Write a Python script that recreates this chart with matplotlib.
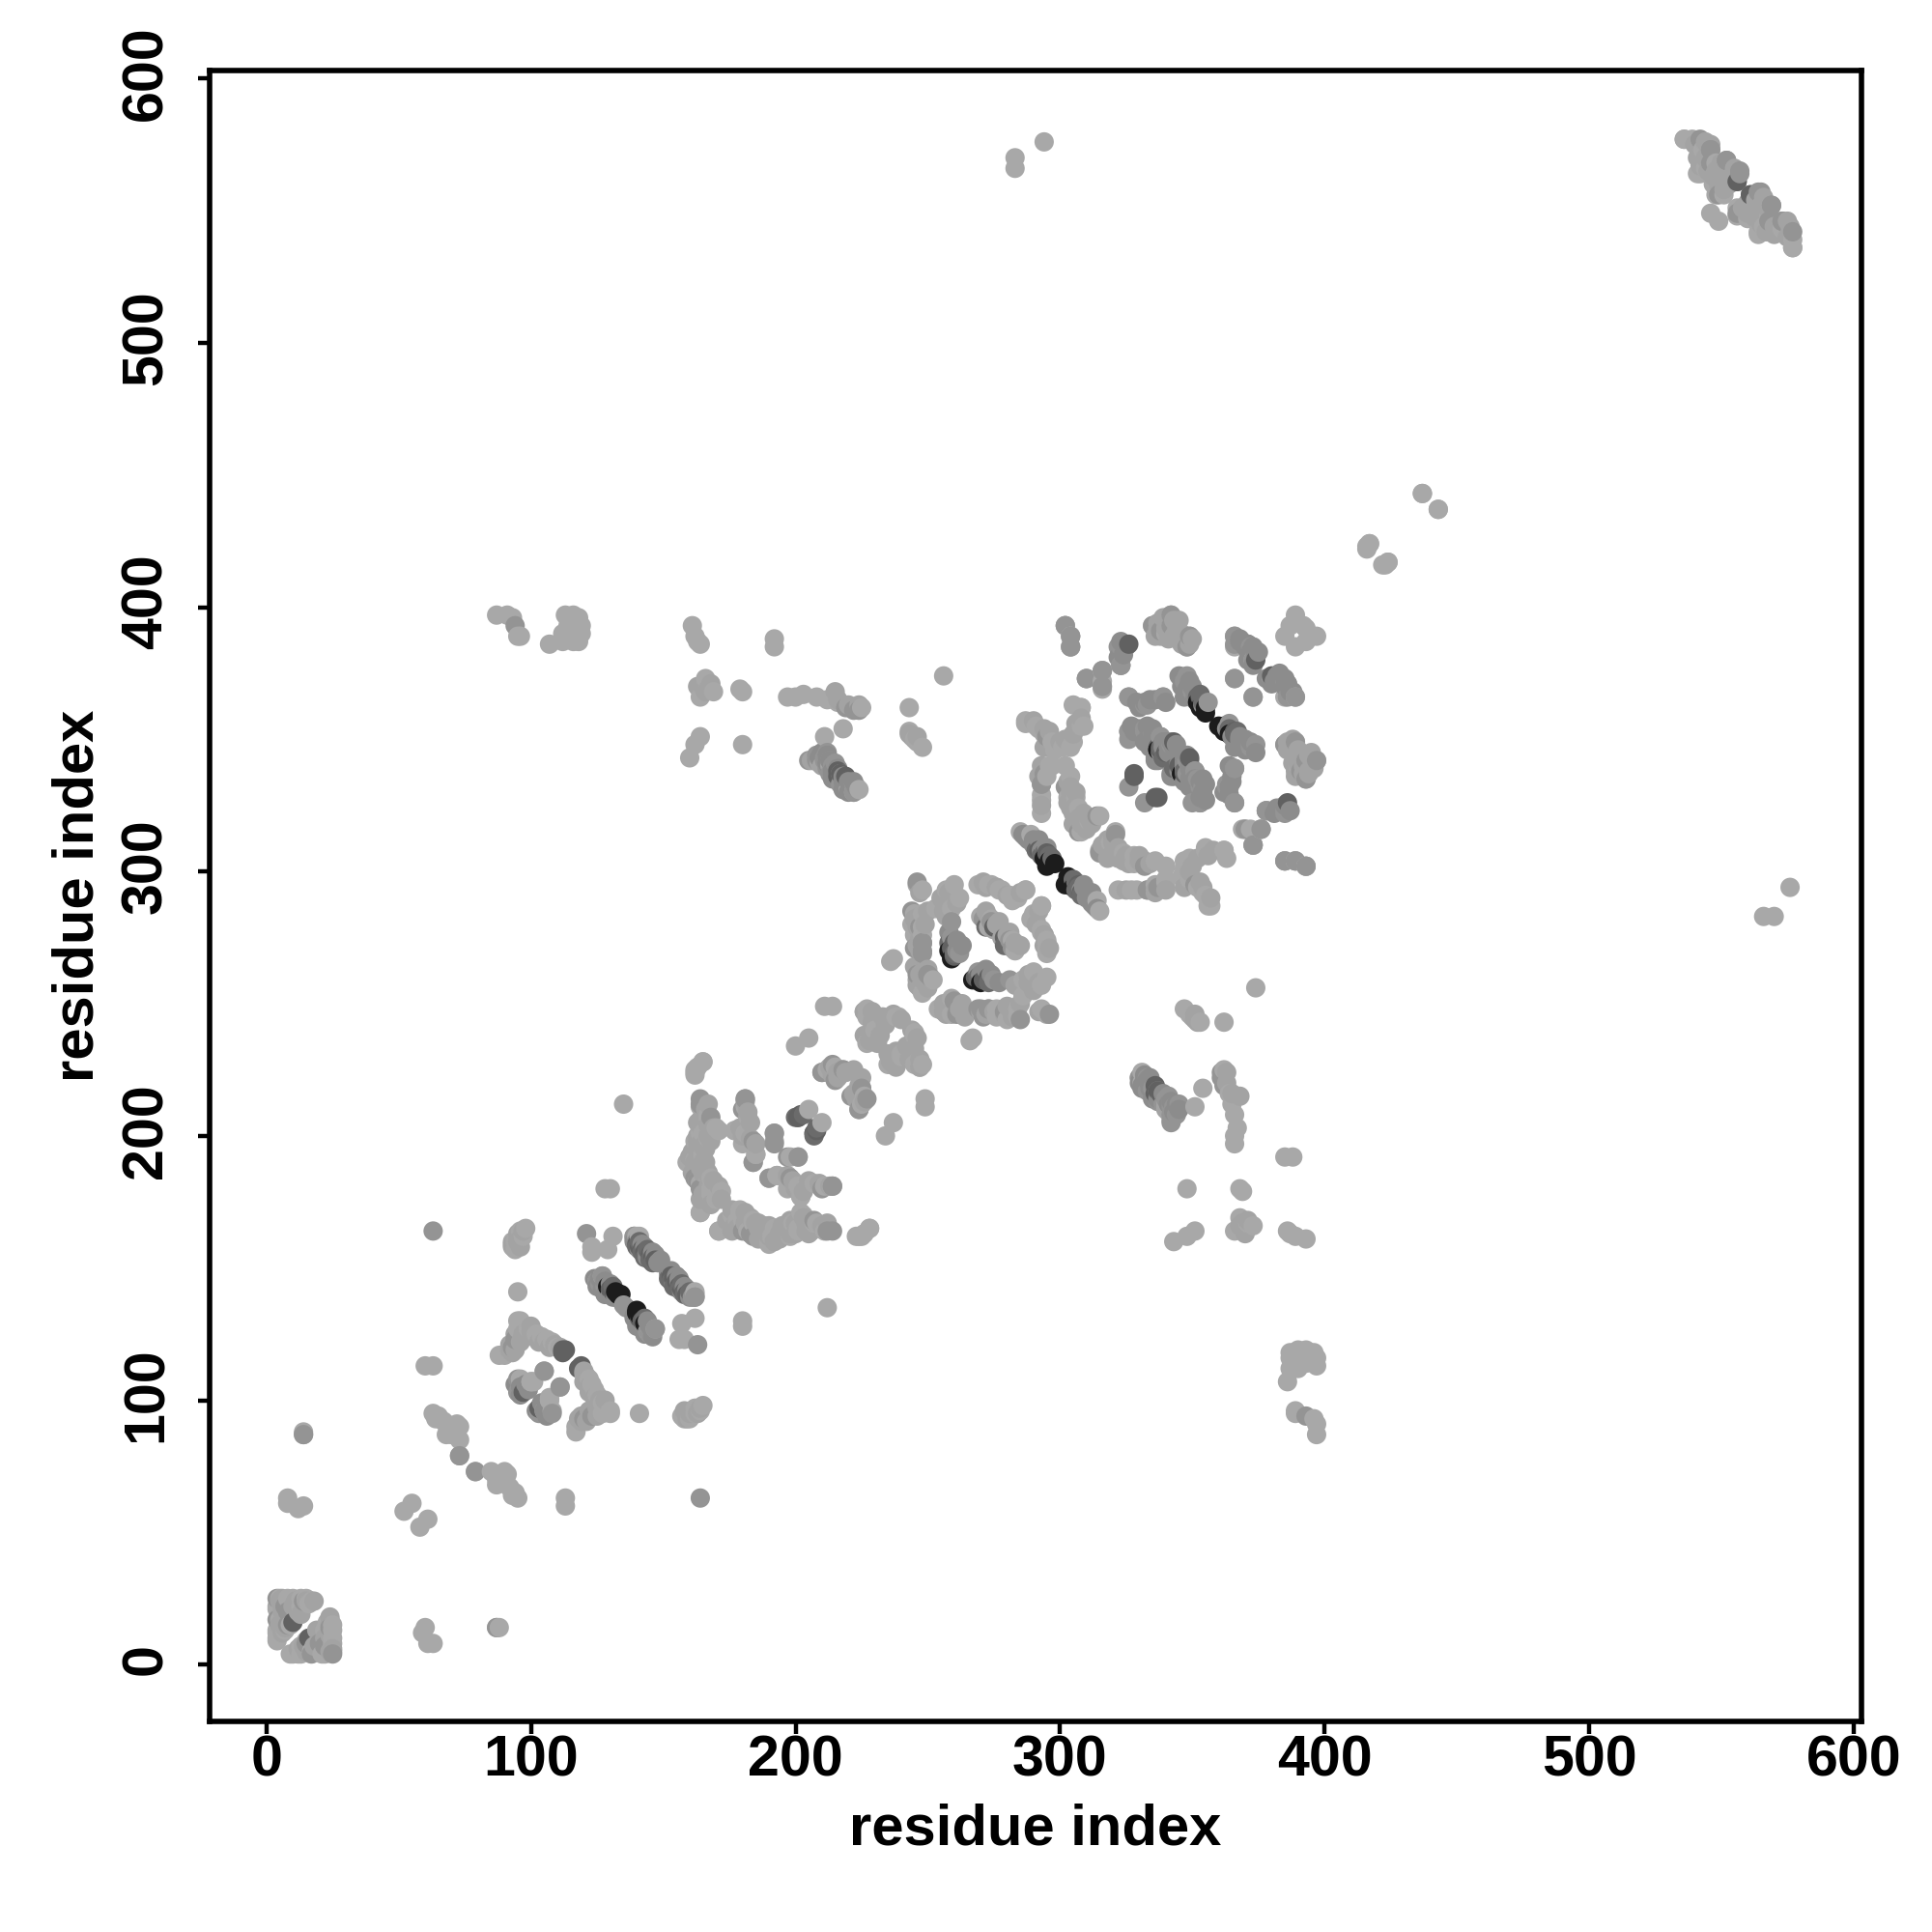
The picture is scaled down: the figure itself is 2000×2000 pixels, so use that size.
import numpy as np
import matplotlib
matplotlib.use("Agg")
import matplotlib.pyplot as plt
from matplotlib.transforms import ScaledTranslation

# contacts (i, j), i < j; the map shows both (i, j) and (j, i)
light = [(4,10),(4,13),(4,21),(8,25),(13,25),(17,24),(16,23),(13,22),(9,15),(9,4),(12,4),(13,7),(5,17),(4,22),(5,25),(10,25),(15,25),
    (14,87),(14,88),(8,61),(8,63),(12,59),(14,60),(52,58),(55,61),(60,113),(63,113),
    (64,93),(65,94),(67,92),(68,91),(70,90),(72,87),(70,87),(73,90),(73,85),(73,79),(63,95),(68,87),(72,91),
    (93,158),(94,160),(95,162),(96,164),(98,165),(94,157),(95,141),(93,160),(97,162),
    (88,117),(90,117),(91,118),(95,127),(95,130),(96,130),(97,128),(99,127),(102,125),(104,124),(106,123),(108,122),(110,120),
    (101,107),(105,111),(100,107),(103,97),(105,96),(108,96),(107,100),
    (123,156),(123,158),(129,157),(131,162),(130,180),(128,180),(141,162),(135,212),(145,125),(147,127),(162,140),
    (162,224),(165,228),(162,225),(167,208),(171,202),(162,198),(165,201),(165,192),(160,190),(162,191),(167,184),(168,180),(172,179),(170,176),(164,171),(171,164),
    (170,176),(171,179),(168,178),(168,184),(163,183),(164,182),(159,190),(162,191),(165,193),(167,199),(170,203),(164,201),(167,207),(164,211),(162,223),(165,228),(163,226),
    (181,211),(182,207),(177,202),(181,201),(180,197),(185,193),(192,201),(192,198),(190,184),(193,185),(198,184),(201,181),(202,177),(205,210),
    (211,249),(214,249),(200,234),(205,237),(227,248),(228,246),(231,240),(227,235),(239,245),(238,245),(230,240),(227,245),(226,247),(212,225),(215,226),(218,225),
    (236,266),(237,267),(246,295),(248,293),(257,293),(260,295),(262,290),(259,286),(253,286),(248,284),(248,279),(245,284),(244,280),(245,276),(248,276),
    (271,295),(274,295),(277,293),(282,289),(287,293),(284,290),(293,287),(291,281),(293,278),(295,273),(295,269),(282,274),(279,273),(283,270),(246,259),(252,259),(248,254),
    (243,362),(243,353),(245,350),(246,349),(248,347),(256,374),
    (302,393),(304,389),(304,385),(310,373),(316,376),(316,372),(316,369),(305,363),(308,362),(309,355),(305,349),(301,347),
    (287,356),(291,355),(294,352),(297,349),(298,346),(293,322),(293,327),(293,333),(296,340),
    (285,315),(289,314),(315,321),(308,315),(311,319),(307,324),(306,328),(303,328),(304,336),(302,340),(304,347),(308,355),(308,362),(298,347),(295,351),(292,354),(287,357),(293,329),(295,336),(297,340),
    (310,373),(316,370),(316,376),(304,385),(304,389),(302,393),(323,378),(348,385),(349,389),(342,393),(342,397),(335,393),(340,390),(338,391),(366,389),(366,385),(366,373),(373,380),(385,389),(387,393),(389,397),(392,393),
    (87,397),(91,397),(93,396),(95,389),(96,389),(107,386),(112,387),(113,397),(116,397),(118,396),(119,393),(119,390),(118,387),(112,390),(114,393),(114,388),(116,387),
    (160,343),(162,348),(164,351),(161,393),(162,389),(163,387),(164,386),(164,366),(166,373),(167,371),(169,368),(179,369),(180,368),(180,348),(192,388),(192,385),
    (197,366),(200,366),(203,367),(208,366),(212,365),(216,364),(211,351),(218,354),(225,362),(224,331),(222,330),(220,331),
    (416,423),(417,424),(422,416),(424,417),(437,443),(443,437),(283,566),(283,570),(294,576),(536,577),(539,577),(541,564),(548,568),(544,566),(543,573),(548,556),(551,556),(547,560),(549,546),(536,577),(564,542)]

mid = [(4,17),(4,25),(8,20),(8,15),(14,24),(7,22),(87,14),(79,73),(63,164),(93,120),(94,123),(95,108),(95,103),(111,105),
    (121,163),(139,162),(139,161),(125,145),(126,144),(127,147),(128,143),(136,135),(162,139),
    (164,214),(164,212),(168,207),(162,184),(164,180),(183,163),(181,214),(184,198),(184,190),(192,197),(201,192),(210,180),(214,181),
    (221,215),(225,218),(227,214),(224,210),(248,273),(248,270),(245,271),(259,281),(274,281),(271,282),(262,269),(259,275),(251,260),(250,261),(261,246),(269,248),(273,248),(279,247),(285,244),(296,246),
    (294,337),(293,333),(302,332),(314,321),(307,315),(295,351),
    (322,385),(323,378),(326,353),(326,366),(333,363),(339,366),(332,353),(335,352),(338,351),(337,348),(326,332),(347,372),(350,368),(356,364),(372,348),(374,348),
    (373,366),(380,373),(385,372),(389,366),(386,366),(385,348),(389,349),(393,342),(397,342),(391,338),(393,335),(378,323),(385,323),(370,316),(376,316),(373,310),(385,304),(389,304),(393,302),
    (353,326),(350,326),(354,332),(366,326),(363,332),(366,339),(348,342),(351,338),(94,393),
    (205,342),(208,342),(211,342),(213,342),(215,341),(212,339),(213,337),(217,333),(219,362),(222,361),(224,361),
    (330,222),(333,222),(335,218),(340,214),(343,211),(344,208),(345,212),(552,569),(546,573),(557,565),(561,556),(564,557),(569,552),(573,546),(568,546),(577,542),(556,549)]

dark = [(10,16),(113,119),(112,119),(97,103),(118,112),(140,159),(141,158),(142,157),(143,156),(145,155),(146,154),(147,153),(130,142),(131,141),
    (201,207),(202,208),(207,201),(260,273),(275,279),(260,268),(271,259),(295,307),(292,308),
    (343,349),(340,345),(328,336),(337,328),(347,337),(346,338),(366,353),(374,380),(326,386),(216,336),(219,336),(337,217),(338,216),(556,561)]

black = [(132,141),(133,140),(134,140),(129,143),(140,133),(259,267),(258,270),(296,304),(294,305),(303,298),(302,295),(352,364),(355,360),(353,362),(362,355),(346,337),(337,346)]

# contacts packed inside the blobs, where single discs are hard to tell apart
blob_light = [(540,575),(541,570),(542,567),(544,570),(545,565),(546,568),(547,563),(548,565),(549,560),(550,562),(551,558),(552,565),(553,560),(554,563),(555,566),(550,568),(546,575),(544,576),
    (5,24),(6,20),(5,15),(6,12),(7,18),(10,22),(11,24),(12,20),(15,24),(18,24),(6,25),(7,14),(13,19),
    (92,119),(92,121),(93,118),(94,119),(94,125),(96,122),(97,125),(100,126),(101,124),(103,122),(105,122),(107,120),(109,121),(111,120),(100,128),
    (95,160),(96,161),(96,158),(95,163),(97,164),(93,159),
    (163,205),(163,200),(161,193),(163,195),(164,188),(161,186),(165,186),(166,190),(166,195),(167,204),(169,203),(168,198),(164,176),(166,177),(167,181),(169,183),(171,181),(168,174),(172,176),
    (165,178),(167,186),(166,188),(165,190),(163,194),(160,192),(161,194),(163,198),(165,196),(164,204),(164,206),(166,210),(167,212),(167,185),(162,190),(164,197),(167,200),
    (181,213),(182,209),(183,205),(179,203),(180,200),(183,199),(185,197),
    (226,247),(229,247),(229,243),(232,238),(226,238),(228,236),(234,242),(237,246),(231,235),(233,245),(240,244),(213,226),(216,224),(219,224),(222,225),(214,223),(222,216),(223,214),(224,216),(210,224),
    (247,283),(246,279),(245,282),(247,275),(246,272),(249,280),(247,270),(250,285),(255,290),(258,292),(247,292),(258,288),(261,288),(257,283),(256,285),
    (272,294),(276,294),(280,291),(285,292),(294,276),(296,271),(280,276),(278,275),(285,272),(273,283),(277,281),(247,261),(249,258),(250,256),(247,256),(246,257),(245,264),(248,262),(250,263),
    (305,322),(306,325),(305,327),(306,330),(304,332),(303,334),(304,330),(307,320),(308,318),(309,322),(311,320),(310,316),(312,318),(313,320),(305,318),(304,324),(303,326),
    (308,358),(306,356),(305,352),(302,350),(300,349),(294,347),(293,340),(292,336),(293,336),(293,325),(294,354),(290,357),(296,353),
    (337,394),(339,396),(341,393),(344,391),(338,389),(341,388),(346,390),(349,386),(345,395),(343,389),(386,346),(388,350),(392,340),(394,338),(390,341),(392,337),(395,343),(396,340),(394,344),(389,336),
    (163,370),(165,370),(168,371),(167,369),(166,368),(206,342),(209,341),(210,340),(211,340),(213,340),(220,363),(224,363),(216,365),(215,368),(243,352),(244,351),(246,351)]

blob_mid = [(139,160),(140,160),(141,157),(142,159),(143,158),(144,154),(144,156),(146,156),(148,152),(147,155),(149,153),
    (124,146),(126,146),(125,143),(127,142),(128,145),(129,141),(130,144),(131,139),(132,139),(128,140),(130,140),
    (96,105),(96,102),(99,104),(98,106),(94,106),
    (258,277),(261,270),(261,274),(263,272),(286,314),(287,313),(288,312),(290,312),(291,311),(292,312),(293,308),(294,309),(295,309),(290,310),
    (325,385),(324,382),(322,381),(323,387),(368,388),(370,385),(371,386),(372,382),(373,378),(372,381),(375,383),(371,380),(374,383),(385,373),(383,372),(382,374),(387,368),(386,371),
    (345,374),(346,370),(348,369),(349,372),(351,368),(350,370),(351,365),(354,363),(349,368),(349,370),(347,366),
    (337,350),(339,349),(341,347),(341,345),(339,347),(336,346),(343,347),(335,354),(327,355),(328,353),(330,354),(334,353),(333,355),(340,364),(336,365),(334,365),(332,364),(330,362),(329,364),
    (334,347),(335,349),(336,343),(332,349),(336,342),(338,345),(337,342),(348,344),(349,340),(347,341),(351,335),(350,337),(349,342),
    (214,338),(214,335),(217,337),(215,336),(218,334),(218,331),(221,333),(223,332),(222,334),
    (220,330),(219,331),(221,332),(220,334),(218,336),(214,337),(216,339),(212,341),(213,342),(209,343),(210,345),(212,344)]

blob_dark = [(140,158),(141,160),(142,156),(143,154),(144,157),(145,153),(146,152),(131,143),(200,207),(203,208),(272,279),(258,273),(260,269),(291,308),(293,306),(294,307),(296,306),(297,305),(338,347),(339,343),(352,366),(353,367),(354,364)]

shades = [(light, 0.66), (blob_light, 0.64), (mid, 0.58), (blob_mid, 0.55), (dark, 0.38), (blob_dark, 0.42), (black, 0.11)]

xs, ys, cs = [], [], []
for pairs, gray in shades:
    for i, j in pairs:
        xs += [i, j]
        ys += [j, i]
        cs += [gray, gray]
xs = np.array(xs)
ys = np.array(ys)
cs = np.array(cs)
order = np.argsort(xs, kind="stable")

plt.rcParams['font.family'] = ['Liberation Sans', 'DejaVu Sans']
plt.rcParams['font.weight'] = 'bold'

fig = plt.figure(figsize=(10, 10), dpi=200)
ax = fig.add_axes([0.1085, 0.109, 0.855, 0.8545])
ax.scatter(xs[order], ys[order], c=cs[order], cmap='gray', vmin=0, vmax=1, s=52, linewidths=0)

ax.set_xlim(-21.5, 603)
ax.set_ylim(-21.5, 603)
ax.set_xticks(range(0, 601, 100))
ax.set_yticks(range(0, 601, 100))
ax.tick_params(width=1.6, length=4.5, labelsize=21.3)
ax.tick_params(axis='x', pad=0.5)
ax.tick_params(axis='y', pad=9)
for label in ax.get_yticklabels():
    label.set_rotation(90)
    label.set_va('center')
    label.set_transform(label.get_transform() + ScaledTranslation(0, 2 / 72, fig.dpi_scale_trans))
for spine in ax.spines.values():
    spine.set_linewidth(2.0)
ax.set_xlabel('residue index', fontsize=21.5, fontweight='bold', labelpad=5.5)
ax.set_ylabel('residue index', fontsize=21.5, fontweight='bold', labelpad=5.7)

fig.savefig('out.png', dpi=200)
